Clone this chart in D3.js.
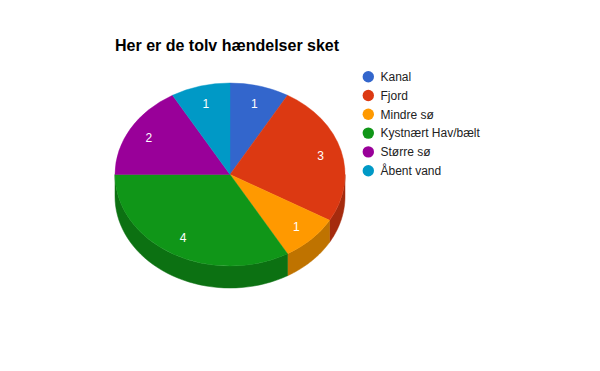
<!DOCTYPE html>
<html><head><meta charset="utf-8">
<script src="https://cdn.jsdelivr.net/npm/d3@7"></script>
<style>body{margin:0;background:#fff}svg{display:block}</style>
</head><body>
<svg id="c" width="600" height="371"></svg>
<script>
const categories = ["Kanal","Fjord","Mindre sø","Kystnært Hav/bælt","Større sø","Åbent vand"];
const values = [1,3,1,4,2,1];
const colors = ["#3366cc","#dc3912","#ff9900","#109618","#990099","#0099c6"];
const sideColors = ["#264d99","#a52b0e","#bf7300","#0c7112","#730073","#007395"];
const title = "Her er de tolv hændelser sket";

const svg = d3.select("#c");
const font = "Arial, 'Liberation Sans', sans-serif";
const cx = 230, cy = 174.5, rx = 115, ry = 91.5, depth = 22;

svg.append("text").attr("x",115).attr("y",51).attr("font-family",font)
  .attr("font-size",16).attr("font-weight","bold").attr("fill","#000").text(title);

const data = categories.map((c,i)=>({c, v:values[i], i}));
const pie = d3.pie().value(d=>d.v).sort(null);
const arcs = pie(data);

const pt = (a, dy=0) => [cx + rx*Math.sin(a), cy - ry*Math.cos(a) + dy];

// side walls
const g = svg.append("g");
arcs.forEach(a=>{
  const lo = Math.max(a.startAngle, Math.PI/2), hi = Math.min(a.endAngle, 3*Math.PI/2);
  if (hi <= lo) return;
  const n = 40, top = [], bot = [];
  for (let k=0;k<=n;k++){ const t = lo + (hi-lo)*k/n; top.push(pt(t)); bot.push(pt(t,depth)); }
  const pts = top.concat(bot.reverse());
  g.append("path").attr("d", d3.line()(pts)+"Z").attr("fill", sideColors[a.data.i])
    .attr("stroke", sideColors[a.data.i]).attr("stroke-width",0.5);
});

// top faces
const arc = d3.arc().innerRadius(0).outerRadius(rx);
const tg = svg.append("g").attr("transform",`translate(${cx},${cy}) scale(1,${ry/rx})`);
tg.selectAll("path").data(arcs).join("path").attr("d",arc)
  .attr("fill",d=>colors[d.data.i]).attr("stroke",d=>colors[d.data.i]).attr("stroke-width",0.5);

// labels
arcs.forEach(a=>{
  const m = (a.startAngle+a.endAngle)/2;
  const x = cx + 0.815*rx*Math.sin(m), y = cy - 0.8*ry*Math.cos(m);
  svg.append("text").attr("x",x).attr("y",y+4.3).attr("text-anchor","middle")
    .attr("font-family",font).attr("font-size",12).attr("fill","#fff").text(a.data.v);
});

// legend
const lg = svg.append("g");
categories.forEach((c,i)=>{
  const y = 76.7 + i*18.8;
  lg.append("circle").attr("cx",368.3).attr("cy",y).attr("r",5.7).attr("fill",colors[i]);
  lg.append("text").attr("x",380.5).attr("y",y+4.3).attr("font-family",font)
    .attr("font-size",12).attr("fill","#222").text(c);
});
</script>
</body></html>
